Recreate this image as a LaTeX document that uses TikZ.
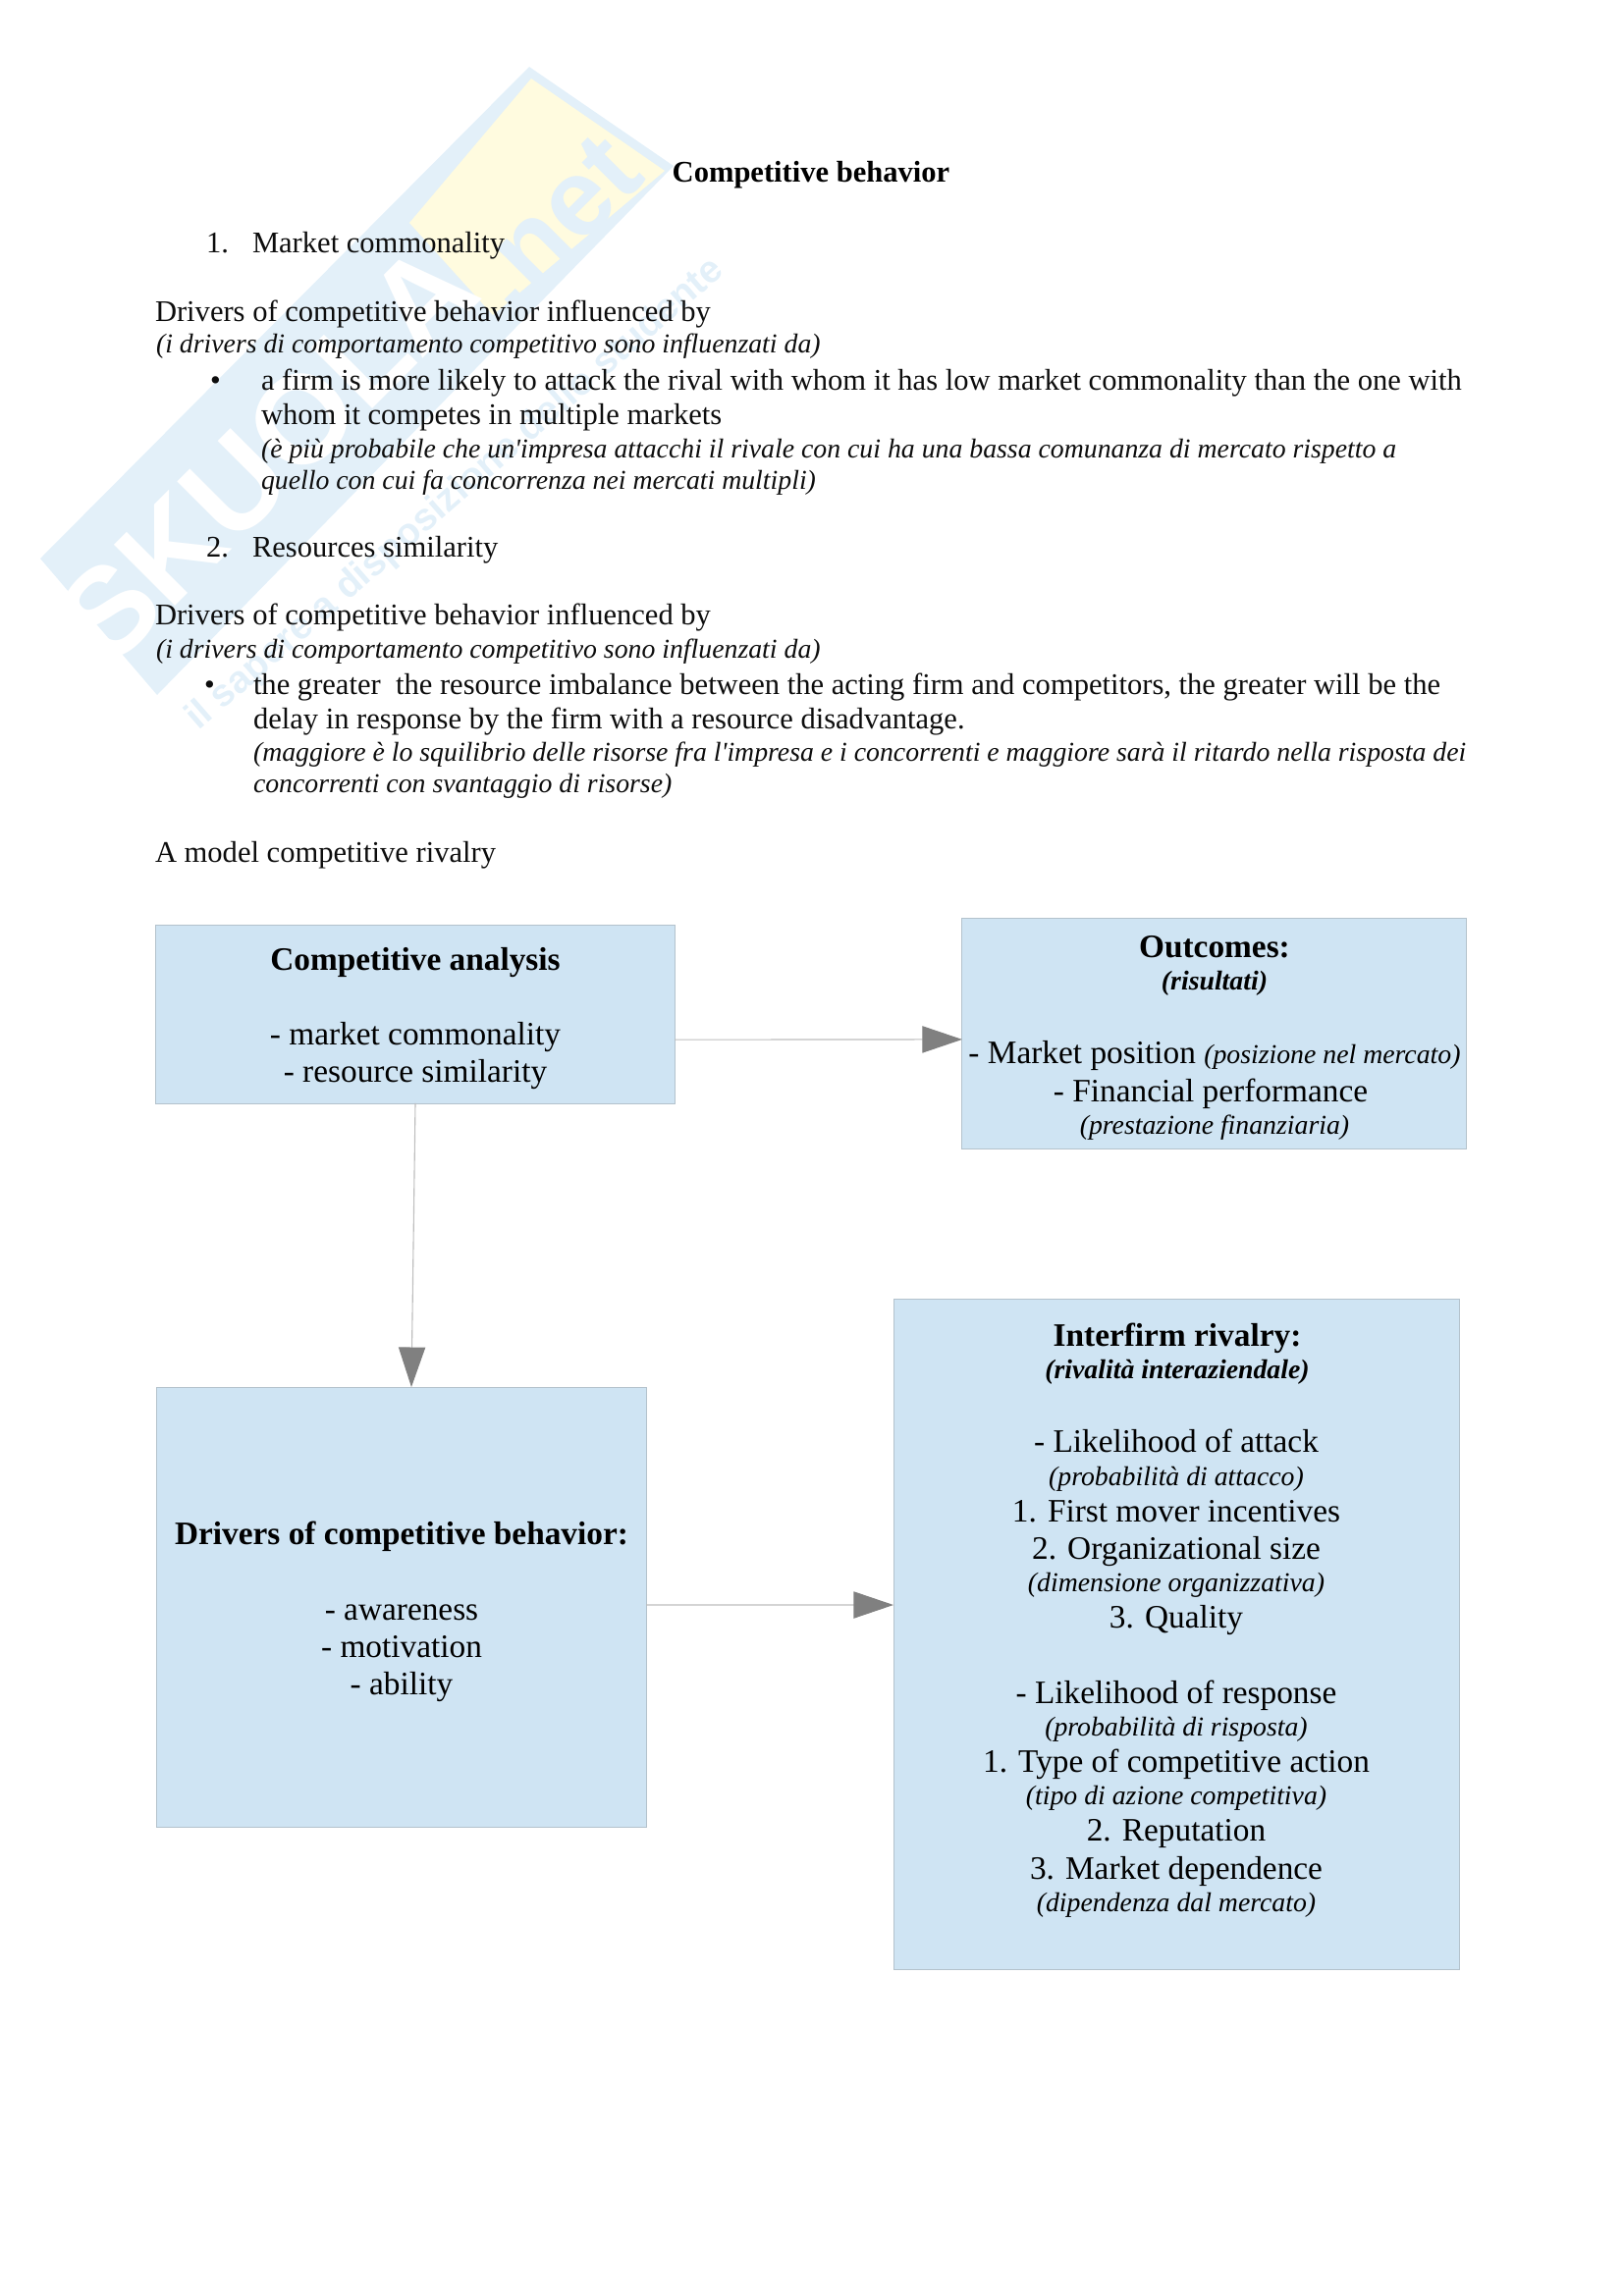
\documentclass[tikz,border=0pt]{standalone}
\usepackage{fontspec}
\setmainfont[Ligatures=TeXOff]{Liberation Serif}
\newfontfamily\wmfont{Liberation Sans}
\usetikzlibrary{arrows.meta}
\definecolor{wmblue}{HTML}{E3F0F9}
\definecolor{wmyellow}{HTML}{FFFBDF}
\definecolor{boxfill}{HTML}{CFE4F3}
\definecolor{boxline}{HTML}{B4C2CC}
\definecolor{linkgray}{HTML}{BDBDBD}
\definecolor{headgray}{HTML}{808080}
\tikzset{
  body/.style={anchor=base west,inner sep=0pt,outer sep=0pt,font=\fontsize{11}{13}\selectfont,text=black!95},
  gloss/.style={anchor=base west,inner sep=0pt,outer sep=0pt,font=\fontsize{10}{12}\selectfont\itshape,text=black!95},
  cbody/.style={anchor=base,inner sep=0pt,outer sep=0pt,font=\fontsize{12}{14}\selectfont,text=black},
  cbold/.style={anchor=base,inner sep=0pt,outer sep=0pt,font=\fontsize{12}{14}\selectfont\bfseries,text=black},
  cgloss/.style={anchor=base,inner sep=0pt,outer sep=0pt,font=\fontsize{10}{12}\selectfont\itshape,text=black},
  cboldgloss/.style={cgloss,font=\fontsize{10}{12}\selectfont\itshape\bfseries},
  panel/.style={draw=boxline,fill=boxfill,line width=0.35pt,inner sep=0pt,outer sep=0pt},
  link/.style={draw=linkgray,line width=0.4pt,-{Triangle[length=14.6pt,width=9.8pt,color=headgray,fill=headgray]}},
  wmtext/.style={inner sep=0pt,outer sep=0pt,rotate=45}
}
\begin{document}
\begin{tikzpicture}[x=0.36pt,y=-0.36pt]
\useasboundingbox (0,0) rectangle (1653,2339);
% watermark
\fill[wmblue] (41,569) -- (539,68) -- (686,169) -- (160,708) -- cycle;
\fill[wmyellow] (541,80) -- (677,174) -- (502,321) -- (417,227) -- cycle;
\node[wmtext,text=white,font=\wmfont\bfseries\fontsize{46}{46}\selectfont] (wmname) at (272,462) {SKUOLA};
\node[wmtext,text=wmblue,font=\wmfont\bfseries\fontsize{40}{40}\selectfont] (wmnet) at (565,227) {.net};
\node[wmtext,rotate=-4,text=wmblue,font=\wmfont\bfseries\fontsize{14}{14}\selectfont] (wmtag) at (464,504) {il sapere a disposizione dello studente};
% text
\node[anchor=base,inner sep=0pt,font=\fontsize{11}{13}\selectfont\bfseries] (title) at (826,185) {Competitive behavior};
\node[body] (n1) at (210,257) {1.};
\node[body] (t1) at (257,257) {Market commonality};
\node[body] (d1) at (158,327) {Drivers of competitive behavior influenced by};
\node[gloss] (g1) at (159,359) {(i drivers di comportamento competitivo sono influenzati da)};
\node[body] (b1) at (214,397) {•};
\node[body] (a1) at (266,397) {a firm is more likely to attack the rival with whom it has low market commonality than the one with};
\node[body] (a2) at (266,432) {whom it competes in multiple markets};
\node[gloss] (a3) at (266,466) {(è più probabile che un'impresa attacchi il rivale con cui ha una bassa comunanza di mercato rispetto a};
\node[gloss] (a4) at (266,498) {quello con cui fa concorrenza nei mercati multipli)};
\node[body] (n2) at (210,567) {2.};
\node[body] (t2) at (257,567) {Resources similarity};
\node[body] (d2) at (158,636) {Drivers of competitive behavior influenced by};
\node[gloss] (g2) at (159,670) {(i drivers di comportamento competitivo sono influenzati da)};
\node[body] (b2) at (208,707) {•};
\node[body] (c1) at (258,707) {the greater\ \ the resource imbalance between the acting firm and competitors, the greater will be the};
\node[body] (c2) at (258,742) {delay in response by the firm with a resource disadvantage.};
\node[gloss] (c3) at (258,775) {(maggiore è lo squilibrio delle risorse fra l'impresa e i concorrenti e maggiore sarà il ritardo nella risposta dei};
\node[gloss] (c4) at (258,807) {concorrenti con svantaggio di risorse)};
\node[body] (m) at (158,878) {A model competitive rivalry};
% boxes
\node[panel,minimum width=190.1pt,minimum height=65.5pt] (ca) at (423,1033) {};
\node[panel,minimum width=184.7pt,minimum height=84.6pt] (oc) at (1236.5,1052.5) {};
\node[panel,minimum width=179.3pt,minimum height=161.6pt] (dr) at (409,1637.5) {};
\node[panel,minimum width=207.7pt,minimum height=246.2pt] (ir) at (1198.5,1665) {};
% box texts
\node[cbold] (ca1) at (423,988) {Competitive analysis};
\node[cbody] (ca2) at (423,1064) {- market commonality};
\node[cbody] (ca3) at (423,1102) {- resource similarity};
\node[cbold] (oc1) at (1237,975) {Outcomes:};
\node[cboldgloss] (oc2) at (1237,1008) {(risultati)};
\node[cbody] (oc3) at (1237,1083) {- Market position {\fontsize{10}{12}\selectfont\itshape (posizione nel mercato)}};
\node[cbody] (oc4) at (1233,1122) {- Financial performance};
\node[cgloss] (oc5) at (1237,1155) {(prestazione finanziaria)};
\node[cbold] (dr1) at (409,1573) {Drivers of competitive behavior:};
\node[cbody] (dr2) at (409,1650) {- awareness};
\node[cbody] (dr3) at (409,1688) {- motivation};
\node[cbody] (dr4) at (409,1726) {- ability};
\node[cbold] (ir1) at (1199,1371) {Interfirm rivalry:};
\node[cboldgloss] (ir2) at (1199,1404) {(rivalità interaziendale)};
\node[cbody] (ir3) at (1198,1479) {- Likelihood of attack};
\node[cgloss] (ir4) at (1198,1513) {(probabilità di attacco)};
\node[cbody] (ir5) at (1198,1550) {1. First mover incentives};
\node[cbody] (ir6) at (1198,1588) {2. Organizational size};
\node[cgloss] (ir7) at (1198,1621) {(dimensione organizzativa)};
\node[cbody] (ir8) at (1198,1658) {3. Quality};
\node[cbody] (ir9) at (1198,1735) {- Likelihood of response};
\node[cgloss] (ir10) at (1198,1768) {(probabilità di risposta)};
\node[cbody] (ir11) at (1198,1805) {1. Type of competitive action};
\node[cgloss] (ir12) at (1198,1838) {(tipo di azione competitiva)};
\node[cbody] (ir13) at (1198,1875) {2. Reputation};
\node[cbody] (ir14) at (1198,1914) {3. Market dependence};
\node[cgloss] (ir15) at (1198,1947) {(dipendenza dal mercato)};
% connectors
\draw[link] ([yshift=-9.4pt]ca.east) -- ([yshift=-2.3pt]oc.west);
\draw[link] (ca.south) -- ([xshift=3.6pt]dr.north);
\draw[link] ([yshift=0.9pt]dr.east) -- ([yshift=10.8pt]ir.west);
\end{tikzpicture}
\end{document}
